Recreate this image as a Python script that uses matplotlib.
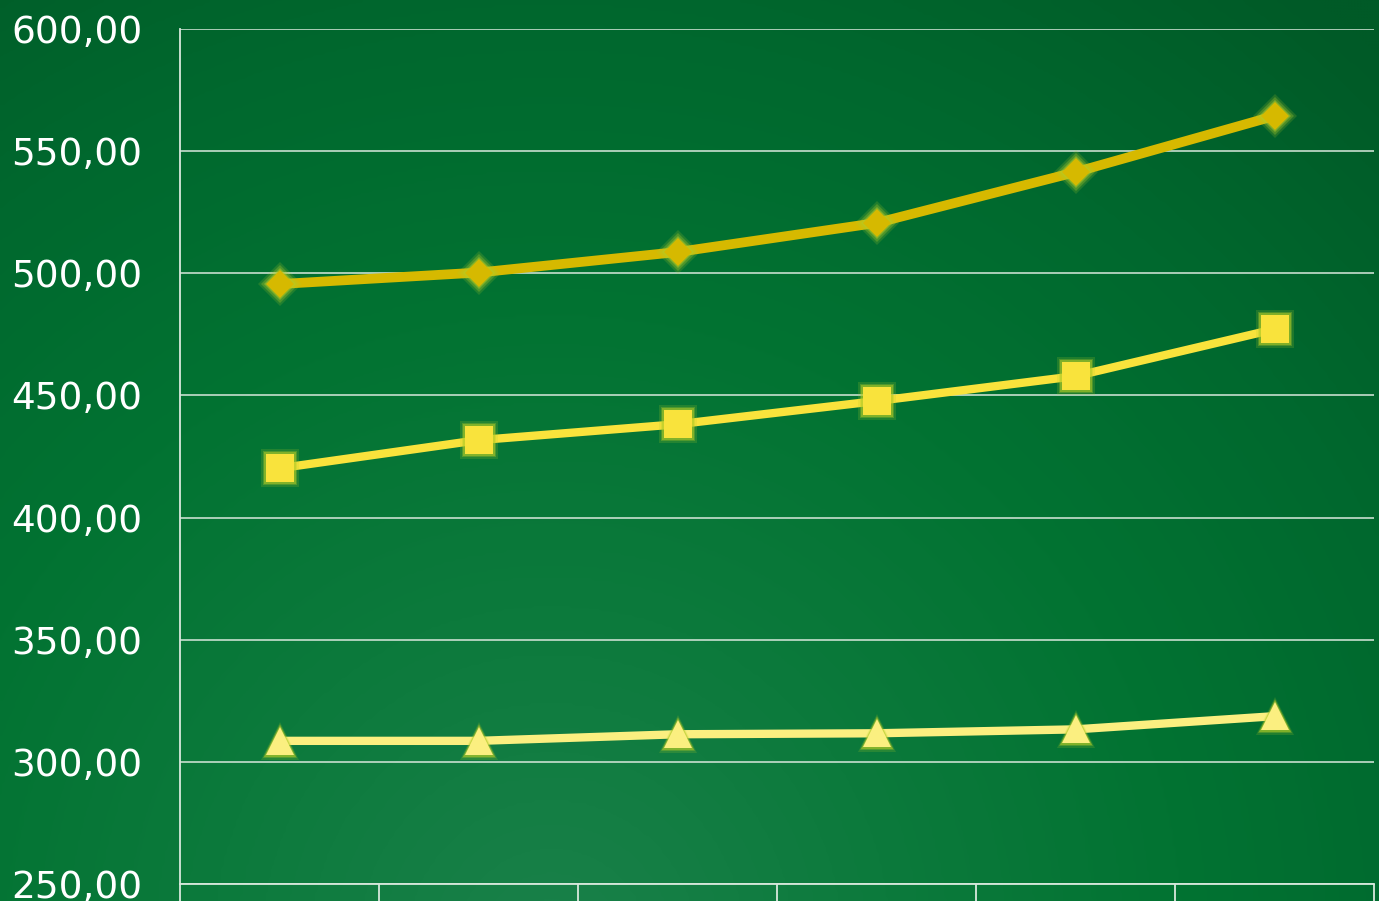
import numpy as np
import matplotlib
matplotlib.use("Agg")
import matplotlib.pyplot as plt
from matplotlib.colors import LinearSegmentedColormap
from matplotlib.ticker import FuncFormatter, FixedLocator

categories = ["1", "2", "3", "4", "5", "6"]
series_diamond = [495.6, 500.3, 508.7, 520.6, 541.4, 564.4]
series_square = [420.2, 431.7, 438.2, 447.7, 457.9, 477.1]
series_triangle = [308.6, 308.6, 311.3, 311.7, 313.3, 318.7]
y_ticks = [250, 300, 350, 400, 450, 500, 550, 600]

W, H, DPI = 1379, 901, 100
fig = plt.figure(figsize=(W / DPI, H / DPI), dpi=DPI)

# background radial gradient
bg = fig.add_axes([0, 0, 1, 1])
bg.set_axis_off()
yy, xx = np.mgrid[0:1:300j, 0:1:460j]
cx, cy = 0.40, 1.05
d = np.sqrt(((xx - cx) * 1.53) ** 2 + (yy - cy) ** 2)
d = np.clip(d / 1.35, 0, 1)
cmap = LinearSegmentedColormap.from_list(
    "g", ["#188048", "#0c7a3c", "#027332", "#00682e", "#005a27"])
bg.imshow(d, cmap=cmap, extent=[0, 1, 0, 1], origin="upper", aspect="auto",
          interpolation="bicubic")
bg.set_xlim(0, 1)
bg.set_ylim(0, 1)

ax = fig.add_axes([180 / W, 1 - 884 / H, (1374 - 180) / W, (884 - 29) / H])
ax.set_facecolor("none")
x = np.arange(len(categories))
ax.set_xlim(-0.5, len(categories) - 0.5)
ax.set_ylim(250, 600)

ax.yaxis.set_major_locator(FixedLocator(y_ticks))
ax.yaxis.set_major_formatter(FuncFormatter(lambda v, p: f"{v:.2f}".replace(".", ",")))
ax.grid(axis="y", color="#d8e8dc", lw=1.3, alpha=0.85)
ax.set_axisbelow(True)
ax.tick_params(axis="y", length=0, pad=27, labelsize=27, labelcolor="white")
ax.xaxis.set_major_locator(FixedLocator(np.arange(-0.5, len(categories), 1.0)))
ax.set_xticklabels([])
ax.tick_params(axis="x", length=20, width=1.3, color="#d8e8dc", direction="out")
for s in ["top", "right"]:
    ax.spines[s].set_visible(False)
for s in ["left", "bottom"]:
    ax.spines[s].set_color("#d8e8dc")
    ax.spines[s].set_linewidth(1.3)

glow = "#b4cc28"

def draw(vals, marker, color, ms, lw):
    ax.plot(x, vals, color=color, lw=lw, solid_capstyle="round", zorder=3)
    for extra, a in [(8, 0.18), (5, 0.3), (2.5, 0.5)]:
        ax.plot(x, vals, ls="none", marker=marker, ms=ms + extra, color=glow,
                alpha=a, mew=0, zorder=4)
    ax.plot(x, vals, ls="none", marker=marker, ms=ms, color=color, mew=0, zorder=5)

draw(series_diamond, "D", "#d6b900", 14, 7.0)
draw(series_square, "s", "#f9e33c", 20, 6.0)
draw(series_triangle, "^", "#fbef80", 20, 6.0)

fig.savefig("out.png", dpi=DPI)
